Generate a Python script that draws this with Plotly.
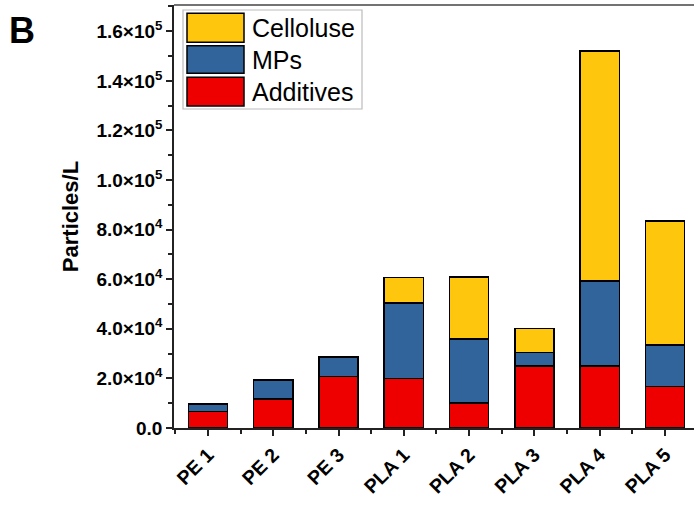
import plotly.graph_objects as go

categories = ["PE 1", "PE 2", "PE 3", "PLA 1", "PLA 2", "PLA 3", "PLA 4", "PLA 5"]
additives = [6600, 11700, 20700, 20000, 10000, 25100, 25100, 16700]
mps = [3100, 7700, 8000, 30500, 25800, 5300, 34200, 16800]
cellulose = [0, 0, 0, 10300, 25200, 9800, 92800, 50000]
ytick_vals = [0, 20000, 40000, 60000, 80000, 100000, 120000, 140000, 160000]
ytick_text = ["0.0", "2.0×10<sup>4</sup>", "4.0×10<sup>4</sup>", "6.0×10<sup>4</sup>",
              "8.0×10<sup>4</sup>", "1.0×10<sup>5</sup>", "1.2×10<sup>5</sup>",
              "1.4×10<sup>5</sup>", "1.6×10<sup>5</sup>"]

C_YEL = "#FFC60E"
C_BLU = "#32649C"
C_RED = "#EE0000"
FONT = "Liberation Sans, Arial"

xs = list(range(len(categories)))
fig = go.Figure()
line = dict(color="black", width=1.5)
fig.add_bar(x=xs, y=additives, name="Additives", marker=dict(color=C_RED, line=line), width=0.6)
fig.add_bar(x=xs, y=mps, name="MPs", marker=dict(color=C_BLU, line=line), width=0.6)
fig.add_bar(x=xs, y=cellulose, name="Celloluse", marker=dict(color=C_YEL, line=line), width=0.6)

L, R, T, B = 174, 0, 5, 80
W, H = 694, 508
pw, ph = W - L - R, H - T - B


def px(x):
    return (x - L) / pw


def py(y):
    return (H - B - y) / ph


shapes = []
annotations = []
shapes.append(dict(type="rect", xref="paper", yref="paper", x0=px(183), x1=px(362),
                   y0=py(109), y1=py(10), line=dict(color="#BBBBBB", width=1.2),
                   fillcolor="white", layer="above"))
legend_items = [("Celloluse", C_YEL, 13.3, 42.3), ("MPs", C_BLU, 45.7, 73.3),
                ("Additives", C_RED, 77.3, 106)]
for name, col, y0, y1 in legend_items:
    shapes.append(dict(type="rect", xref="paper", yref="paper", x0=px(187), x1=px(244),
                       y0=py(y1), y1=py(y0), line=dict(color="black", width=1.5),
                       fillcolor=col, layer="above"))
    annotations.append(dict(xref="paper", yref="paper", x=px(250), y=py((y0 + y1) / 2),
                            text=name, showarrow=False, xanchor="left", yanchor="middle",
                            font=dict(family=FONT, size=25, color="black")))
annotations.append(dict(xref="paper", yref="paper", x=px(22), y=py(31), text="<b>B</b>",
                        showarrow=False, xanchor="center", yanchor="middle",
                        font=dict(family=FONT, size=36, color="black")))

fig.update_layout(
    barmode="stack",
    width=W, height=H,
    margin=dict(l=L, r=R, t=T, b=B, pad=0),
    plot_bgcolor="white", paper_bgcolor="white",
    showlegend=False,
    shapes=shapes, annotations=annotations,
    font=dict(family=FONT, color="black"),
    xaxis=dict(range=[-0.52, 7.445], tickmode="array", tickvals=xs,
               ticktext=["<b>%s</b>" % c for c in categories], tickangle=-45,
               ticks="outside", ticklen=6, tickwidth=1.5, tickcolor="#222",
               showline=True, linecolor="#222", linewidth=1.5, mirror=False,
               showgrid=False, zeroline=False,
               tickfont=dict(size=19.5, family=FONT, color="black"),
               minor=dict(tickmode="array", tickvals=[i + 0.5 for i in range(-1, 8)],
                          ticks="outside", ticklen=4, tickwidth=1.5, tickcolor="#222")),
    yaxis=dict(range=[0, 170600], tickmode="array", tickvals=ytick_vals,
               ticktext=["<b>%s</b>" % t for t in ytick_text],
               ticks="outside", ticklen=6, tickwidth=1.5, tickcolor="#222",
               showline=True, linecolor="#222", linewidth=1.5,
               showgrid=False, zeroline=False,
               tickfont=dict(size=19, family=FONT, color="black"),
               title=dict(text="<b>Particles/L</b>", standoff=12,
                          font=dict(size=22, family=FONT, color="black")),
               minor=dict(tickmode="array", tickvals=[10000 + 20000 * i for i in range(9)],
                          ticks="outside", ticklen=4, tickwidth=1.5, tickcolor="#222")),
)
fig.add_shape(type="line", xref="paper", yref="paper", x0=0, x1=1, y0=1, y1=1,
              line=dict(color="#444", width=1.5))

fig.write_html("out.html")
